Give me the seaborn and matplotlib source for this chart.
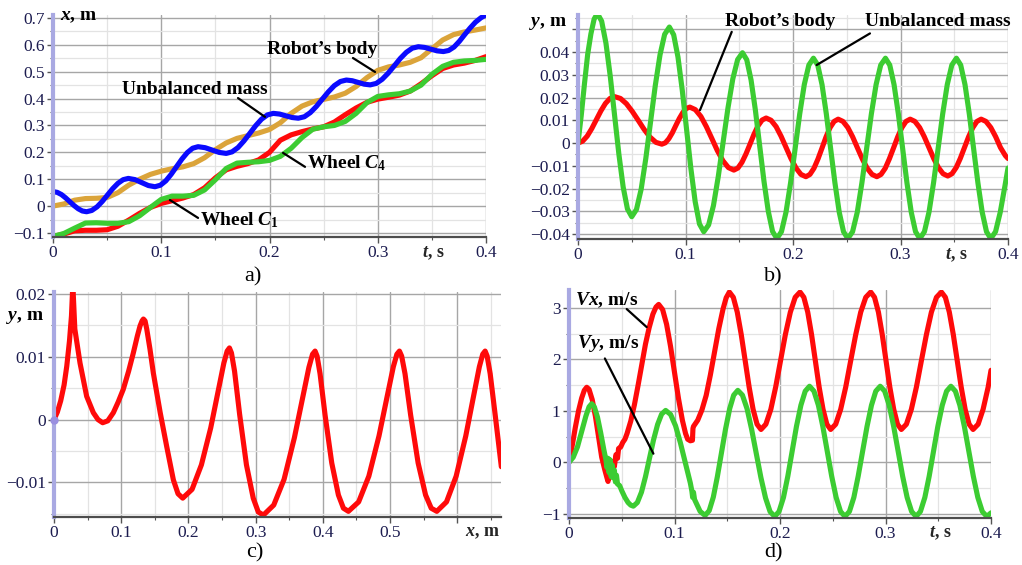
import matplotlib
matplotlib.use('Agg')
import matplotlib.pyplot as plt
import matplotlib.transforms as mtransforms
from matplotlib.ticker import MultipleLocator, FuncFormatter
import seaborn as sns

sns.set_theme(style='whitegrid')
plt.rcParams.update({
    'font.family': ['Liberation Serif', 'DejaVu Serif'],
    'mathtext.fontset': 'custom',
    'mathtext.it': 'Liberation Serif:italic:bold',
    'mathtext.rm': 'Liberation Serif:bold',
    'mathtext.bf': 'Liberation Serif:bold',
    'axes.facecolor': 'white',
    'figure.facecolor': 'white',
    'lines.solid_joinstyle': 'round',
    'lines.solid_capstyle': 'round',
})

# ---------------- data ----------------
# a) x(t): robot's body, unbalanced mass, wheels C1 and C4
A_BODY = [(0, 0.0), (0.01, 0.008), (0.02, 0.022), (0.03, 0.028), (0.04, 0.029), (0.05, 0.032),
          (0.06, 0.05), (0.07, 0.078), (0.08, 0.1), (0.09, 0.118), (0.1, 0.13), (0.11, 0.139),
          (0.12, 0.146), (0.13, 0.158), (0.14, 0.18), (0.15, 0.21), (0.16, 0.235), (0.17, 0.252),
          (0.18, 0.262), (0.19, 0.272), (0.2, 0.285), (0.21, 0.31), (0.22, 0.345), (0.23, 0.372),
          (0.24, 0.388), (0.25, 0.397), (0.26, 0.406), (0.27, 0.42), (0.28, 0.445), (0.29, 0.478),
          (0.3, 0.505), (0.31, 0.518), (0.32, 0.525), (0.33, 0.535), (0.34, 0.552), (0.35, 0.585),
          (0.36, 0.618), (0.37, 0.638), (0.38, 0.648), (0.39, 0.655), (0.4, 0.663)]
A_MASS = [(0, 0.054), (0.0039, 0.0511), (0.0078, 0.043), (0.0116, 0.0308), (0.0155, 0.0165),
          (0.0194, 0.0022), (0.0233, -0.010), (0.0271, -0.0182), (0.031, -0.021),
          (0.0358, -0.0163), (0.0407, -0.0028), (0.0455, 0.0173), (0.0503, 0.041), (0.0551, 0.0647),
          (0.06, 0.0848), (0.0648, 0.0983), (0.0696, 0.103),
          (0.0758, 0.0985), (0.0819, 0.0875), (0.0881, 0.0765), (0.0942, 0.072),
          (0.0992, 0.0777), (0.1042, 0.0938), (0.1091, 0.118), (0.1141, 0.1465), (0.1191, 0.175),
          (0.1241, 0.1992), (0.129, 0.2153), (0.134, 0.221),
          (0.1405, 0.2173), (0.147, 0.2085), (0.1535, 0.1997), (0.16, 0.196),
          (0.1654, 0.2017), (0.1709, 0.2178), (0.1763, 0.242), (0.1818, 0.2705), (0.1872, 0.299),
          (0.1926, 0.3232), (0.1981, 0.3393), (0.2035, 0.345),
          (0.2093, 0.3424), (0.215, 0.336), (0.2208, 0.3296), (0.2266, 0.327),
          (0.2322, 0.3324), (0.2377, 0.3478), (0.2433, 0.3708), (0.2488, 0.398), (0.2544, 0.4252),
          (0.2599, 0.4482), (0.2655, 0.4636), (0.271, 0.469),
          (0.2765, 0.4664), (0.282, 0.46), (0.2875, 0.4536), (0.293, 0.451),
          (0.2986, 0.4564), (0.3041, 0.4718), (0.3097, 0.4948), (0.3153, 0.522), (0.3208, 0.5492),
          (0.3264, 0.5722), (0.3319, 0.5876), (0.3375, 0.593),
          (0.3433, 0.5904), (0.349, 0.584), (0.3548, 0.5776), (0.3606, 0.575),
          (0.3655, 0.579), (0.3705, 0.592), (0.3754, 0.613), (0.3803, 0.638), (0.3852, 0.662),
          (0.3902, 0.684), (0.3951, 0.700), (0.4, 0.712)]
A_WHEEL1 = [(0, -0.113), (0.01, -0.104), (0.02, -0.092), (0.03, -0.09), (0.04, -0.09), (0.05, -0.088),
            (0.06, -0.075), (0.07, -0.052), (0.08, -0.027), (0.09, -0.005), (0.1, 0.01), (0.11, 0.02),
            (0.12, 0.03), (0.13, 0.043), (0.14, 0.068), (0.15, 0.105), (0.16, 0.135), (0.17, 0.148),
            (0.18, 0.158), (0.19, 0.172), (0.2, 0.2), (0.21, 0.245), (0.22, 0.265), (0.23, 0.277),
            (0.24, 0.287), (0.25, 0.295), (0.26, 0.313), (0.27, 0.34), (0.28, 0.365), (0.29, 0.386),
            (0.3, 0.398), (0.31, 0.405), (0.32, 0.413), (0.33, 0.428), (0.34, 0.455), (0.35, 0.485),
            (0.36, 0.512), (0.37, 0.525), (0.38, 0.532), (0.39, 0.542), (0.4, 0.556)]
A_WHEEL4 = [(0, -0.113), (0.01, -0.102), (0.02, -0.082), (0.03, -0.063), (0.04, -0.062), (0.05, -0.064),
            (0.06, -0.064), (0.07, -0.058), (0.08, -0.036), (0.09, -0.005), (0.1, 0.025), (0.11, 0.037),
            (0.12, 0.037), (0.13, 0.04), (0.14, 0.06), (0.15, 0.098), (0.16, 0.14), (0.17, 0.16),
            (0.18, 0.163), (0.19, 0.165), (0.2, 0.17), (0.21, 0.185), (0.22, 0.215), (0.23, 0.255),
            (0.24, 0.286), (0.25, 0.295), (0.26, 0.3), (0.27, 0.315), (0.28, 0.345), (0.29, 0.385),
            (0.3, 0.408), (0.31, 0.414), (0.32, 0.418), (0.33, 0.428), (0.34, 0.45), (0.35, 0.49),
            (0.36, 0.52), (0.37, 0.535), (0.38, 0.54), (0.39, 0.542), (0.4, 0.546)]

# b) y(t): robot's body (red), unbalanced mass (green)
B_BODY = [(0, 0.0), (0.00425, 0.0008), (0.0085, 0.003), (0.01275, 0.0063), (0.017, 0.0102),
          (0.02125, 0.0141), (0.0255, 0.0174), (0.02975, 0.0196), (0.034, 0.0204),
          (0.0395, 0.0196), (0.045, 0.0173), (0.0505, 0.0139), (0.056, 0.01), (0.0615, 0.006),
          (0.067, 0.0026), (0.0725, 0.0003), (0.078, -0.0005),
          (0.08125, 0.0001), (0.0845, 0.0019), (0.08775, 0.0045), (0.091, 0.0077), (0.09425, 0.0108),
          (0.0975, 0.0134), (0.10075, 0.0152), (0.104, 0.0158),
          (0.1091, 0.0147), (0.1143, 0.0117), (0.1194, 0.0072), (0.1245, 0.002), (0.1296, -0.0033),
          (0.1348, -0.0078), (0.1399, -0.0108), (0.145, -0.0119),
          (0.14875, -0.011), (0.1525, -0.0085), (0.15625, -0.0048), (0.16, -0.0005), (0.16375, 0.0039),
          (0.1675, 0.0076), (0.17125, 0.0101), (0.175, 0.011),
          (0.1796, 0.01), (0.1843, 0.0072), (0.1889, 0.003), (0.1935, -0.0019), (0.1981, -0.0068),
          (0.2028, -0.011), (0.2074, -0.0138), (0.212, -0.0148),
          (0.21575, -0.0138), (0.2195, -0.0111), (0.22325, -0.007), (0.227, -0.0022), (0.23075, 0.0027),
          (0.2345, 0.0068), (0.23825, 0.0095), (0.242, 0.0105),
          (0.2465, 0.0095), (0.251, 0.0068), (0.2555, 0.0027), (0.26, -0.0022), (0.2645, -0.007),
          (0.269, -0.0111), (0.2735, -0.0138), (0.278, -0.0148),
          (0.2819, -0.0138), (0.2858, -0.0111), (0.2896, -0.007), (0.2935, -0.0022), (0.2974, 0.0027),
          (0.3013, 0.0068), (0.3051, 0.0095), (0.309, 0.0105),
          (0.3134, 0.0095), (0.3178, 0.0068), (0.3221, 0.0028), (0.3265, -0.002), (0.3309, -0.0068),
          (0.3353, -0.0108), (0.3396, -0.0135), (0.344, -0.0145),
          (0.3479, -0.0135), (0.3518, -0.0108), (0.3556, -0.0068), (0.3595, -0.002), (0.3634, 0.0028),
          (0.3673, 0.0068), (0.3711, 0.0095), (0.375, 0.0105),
          (0.3795, 0.0095), (0.384, 0.0068), (0.3885, 0.0028), (0.393, -0.002), (0.3975, -0.0055),
          (0.4, -0.0068)]
B_MASS = [(0, 0.0), (0.003, 0.012), (0.006, 0.026), (0.009, 0.039), (0.012, 0.048), (0.015, 0.0545),
          (0.018, 0.057),
          (0.022, 0.0536), (0.026, 0.0439), (0.03, 0.0294), (0.034, 0.0123), (0.038, -0.0048),
          (0.042, -0.0193), (0.046, -0.029), (0.05, -0.0324),
          (0.0544, -0.0292), (0.0588, -0.0202), (0.0631, -0.0067), (0.0675, 0.0093), (0.0719, 0.0253),
          (0.0763, 0.0388), (0.0806, 0.0478), (0.085, 0.051),
          (0.089, 0.0476), (0.093, 0.0378), (0.097, 0.0232), (0.101, 0.006), (0.105, -0.0112),
          (0.109, -0.0258), (0.113, -0.0356), (0.117, -0.039),
          (0.1215, -0.036), (0.126, -0.0275), (0.1305, -0.0147), (0.135, 0.0004), (0.1395, 0.0154),
          (0.144, 0.0282), (0.1485, 0.0367), (0.153, 0.0397),
          (0.157, 0.0366), (0.161, 0.0277), (0.165, 0.0145), (0.169, -0.0012), (0.173, -0.0168),
          (0.177, -0.03), (0.181, -0.0389), (0.185, -0.042),
          (0.18925, -0.039), (0.1935, -0.0304), (0.19775, -0.0175), (0.202, -0.0024), (0.20625, 0.0128),
          (0.2105, 0.0257), (0.21475, 0.0343), (0.219, 0.0373),
          (0.223, 0.0343), (0.227, 0.0257), (0.231, 0.0128), (0.235, -0.0024), (0.239, -0.0175),
          (0.243, -0.0304), (0.247, -0.039), (0.251, -0.042),
          (0.2554, -0.039), (0.2598, -0.0304), (0.2641, -0.0175), (0.2685, -0.0024), (0.2729, 0.0128),
          (0.2773, 0.0257), (0.2816, 0.0343), (0.286, 0.0373),
          (0.29, 0.0343), (0.294, 0.0257), (0.298, 0.0128), (0.302, -0.0024), (0.306, -0.0175),
          (0.31, -0.0304), (0.314, -0.039), (0.318, -0.042),
          (0.32225, -0.039), (0.3265, -0.0304), (0.33075, -0.0175), (0.335, -0.0024), (0.33925, 0.0128),
          (0.3435, 0.0257), (0.34775, 0.0343), (0.352, 0.0373),
          (0.356, 0.0343), (0.36, 0.0257), (0.364, 0.0128), (0.368, -0.0024), (0.372, -0.0175),
          (0.376, -0.0304), (0.38, -0.039), (0.384, -0.042),
          (0.3884, -0.039), (0.3928, -0.0304), (0.3971, -0.019), (0.4, -0.011)]

# c) trajectory y(x) of the robot's body
C_X = [0, 0.005, 0.01, 0.015, 0.019, 0.023, 0.026, 0.028, 0.031, 0.0387, 0.0486, 0.0585, 0.0655,
       0.0724, 0.08, 0.0883, 0.0955, 0.103, 0.111, 0.118, 0.124, 0.128, 0.131, 0.133, 0.1355, 0.138,
       0.1428, 0.1478, 0.158, 0.1677, 0.1776, 0.1845, 0.1915, 0.2054, 0.2193, 0.2332, 0.2436, 0.2527,
       0.2576, 0.261, 0.264, 0.2686, 0.2762, 0.2863, 0.2964, 0.3039, 0.3115, 0.3269, 0.3423, 0.3576,
       0.3692, 0.3792, 0.3846, 0.3884, 0.3914, 0.3958, 0.4033, 0.4132, 0.4231, 0.4306, 0.438, 0.4532,
       0.4684, 0.4835, 0.4949, 0.5048, 0.5101, 0.5139, 0.5172, 0.5222, 0.5306, 0.5417, 0.5528, 0.5612,
       0.5695, 0.5839, 0.5983, 0.6126, 0.6234, 0.6328, 0.6378, 0.6414, 0.6444, 0.6489, 0.6564, 0.6655]
C_Y = [0, 0.0012, 0.003, 0.0055, 0.0085, 0.0125, 0.0165, 0.0215, 0.0144, 0.009, 0.0037, 0.0011, 0.0,
       -0.0005, -0.0002, 0.0011, 0.0028, 0.0048, 0.0077, 0.0106, 0.0133, 0.0149, 0.0157, 0.016, 0.0157,
       0.0144, 0.0112, 0.0074, 0.0011, -0.0043, -0.0096, -0.0118, -0.0125, -0.0111, -0.0072, -0.0013,
       0.0042, 0.009, 0.0109, 0.0114, 0.0106, 0.0077, 0.0008, -0.0072, -0.0125, -0.0147, -0.0152,
       -0.0136, -0.0095, -0.0029, 0.0031, 0.0083, 0.0104, 0.0109, 0.0101, 0.0073, 0.0007, -0.0069,
       -0.012, -0.0141, -0.0146, -0.0131, -0.009, -0.0026, 0.0033, 0.0084, 0.0104, 0.0109, 0.0101,
       0.0073, 0.0007, -0.0069, -0.012, -0.0141, -0.0146, -0.0131, -0.009, -0.0026, 0.0033, 0.0084,
       0.0104, 0.0109, 0.0101, 0.0073, 0.0007, -0.0075]

# d) velocities Vx(t), Vy(t)
D_VX = [(0, 0.0), (0.003, 0.32), (0.006, 0.68), (0.009, 1.0), (0.012, 1.25), (0.0145, 1.4), (0.0168, 1.46),
        (0.019, 1.42), (0.022, 1.22), (0.025, 0.9), (0.028, 0.5), (0.031, 0.1), (0.034, -0.15),
        (0.036, -0.3), (0.037, -0.37), (0.038, -0.12), (0.039, -0.28), (0.04, -0.05), (0.041, -0.2),
        (0.042, 0.02), (0.043, -0.08), (0.0445, 0.15), (0.046, 0.08), (0.047, 0.27), (0.049, 0.3),
        (0.051, 0.39), (0.053, 0.45), (0.055, 0.56), (0.0585, 0.8), (0.062, 1.12), (0.0655, 1.5),
        (0.069, 1.9), (0.0725, 2.3), (0.076, 2.62), (0.0795, 2.88), (0.0825, 3.02), (0.085, 3.07),
        (0.08875, 2.97), (0.0925, 2.684), (0.09625, 2.255), (0.1, 1.75), (0.10375, 1.245),
        (0.1075, 0.816), (0.1105, 0.56), (0.1125, 0.45), (0.115, 0.42), (0.117, 0.43), (0.1175, 0.66),
        (0.118, 0.7), (0.122, 0.82), (0.126, 1.02), (0.13, 1.3), (0.134, 1.7), (0.138, 2.15),
        (0.142, 2.6), (0.146, 2.98), (0.149, 3.2), (0.152, 3.31),
        (0.15575, 3.208), (0.1595, 2.919), (0.16325, 2.486), (0.167, 1.975), (0.17075, 1.464),
        (0.1745, 1.031), (0.17825, 0.742), (0.182, 0.64),
        (0.1866, 0.742), (0.1913, 1.031), (0.1959, 1.464), (0.2005, 1.975), (0.2051, 2.486),
        (0.2098, 2.919), (0.2144, 3.208), (0.219, 3.31),
        (0.2226, 3.208), (0.2263, 2.919), (0.2299, 2.486), (0.2335, 1.975), (0.2371, 1.464),
        (0.2408, 1.031), (0.2444, 0.742), (0.248, 0.64),
        (0.2528, 0.742), (0.2575, 1.031), (0.2623, 1.464), (0.267, 1.975), (0.2718, 2.486),
        (0.2765, 2.919), (0.2813, 3.208), (0.286, 3.31),
        (0.2896, 3.208), (0.2933, 2.919), (0.2969, 2.486), (0.3005, 1.975), (0.3041, 1.464),
        (0.3078, 1.031), (0.3114, 0.742), (0.315, 0.64),
        (0.3198, 0.742), (0.3245, 1.031), (0.3293, 1.464), (0.334, 1.975), (0.3388, 2.486),
        (0.3435, 2.919), (0.3483, 3.208), (0.353, 3.31),
        (0.35675, 3.208), (0.3605, 2.919), (0.36425, 2.486), (0.368, 1.975), (0.37175, 1.464),
        (0.3755, 1.031), (0.37925, 0.742), (0.383, 0.64),
        (0.3878, 0.742), (0.3925, 1.031), (0.3973, 1.464), (0.4, 1.79)]
D_VY = [(0, 0.0), (0.004, 0.1), (0.008, 0.3), (0.012, 0.6), (0.016, 0.9), (0.019, 1.08), (0.0215, 1.14),
        (0.024, 1.08), (0.027, 0.88), (0.03, 0.58), (0.033, 0.25), (0.035, 0.05), (0.036, -0.1),
        (0.037, 0.08), (0.038, -0.2), (0.039, 0.05), (0.04, -0.28), (0.041, -0.05), (0.042, -0.3),
        (0.043, -0.15), (0.044, -0.38), (0.045, -0.25), (0.046, -0.42), (0.048, -0.45), (0.05, -0.55),
        (0.053, -0.68), (0.056, -0.78), (0.0585, -0.83), (0.061, -0.85),
        (0.0648, -0.779), (0.0687, -0.578), (0.0725, -0.276), (0.0763, 0.08), (0.0801, 0.436),
        (0.084, 0.738), (0.0878, 0.939), (0.0916, 1.01),
        (0.0963, 0.932), (0.101, 0.711), (0.1056, 0.38), (0.1103, -0.01), (0.115, -0.4),
        (0.1165, -0.56), (0.1172, -0.68), (0.118, -0.58), (0.119, -0.72), (0.1243, -0.952), (0.129, -1.03),
        (0.1329, -0.937), (0.1368, -0.674), (0.1406, -0.28), (0.1445, 0.185), (0.1484, 0.65),
        (0.1523, 1.044), (0.1561, 1.307), (0.16, 1.4),
        (0.1644, 1.307), (0.1688, 1.041), (0.1731, 0.644), (0.1775, 0.175), (0.1819, -0.294),
        (0.1863, -0.691), (0.1906, -0.957), (0.195, -1.05),
        (0.1991, -0.954), (0.2033, -0.68), (0.2074, -0.269), (0.2115, 0.215), (0.2156, 0.699),
        (0.2198, 1.11), (0.2239, 1.384), (0.228, 1.48),
        (0.2322, 1.384), (0.2364, 1.11), (0.2406, 0.699), (0.2448, 0.215), (0.249, -0.269),
        (0.2532, -0.68), (0.2574, -0.954), (0.2616, -1.05),
        (0.2658, -0.954), (0.27, -0.68), (0.2741, -0.269), (0.2783, 0.215), (0.2825, 0.699),
        (0.2867, 1.11), (0.2908, 1.384), (0.295, 1.48),
        (0.29925, 1.384), (0.3035, 1.11), (0.30775, 0.699), (0.312, 0.215), (0.31625, -0.269),
        (0.3205, -0.68), (0.32475, -0.954), (0.329, -1.05),
        (0.3331, -0.954), (0.3373, -0.68), (0.3414, -0.269), (0.3455, 0.215), (0.3496, 0.699),
        (0.3538, 1.11), (0.3579, 1.384), (0.362, 1.48),
        (0.36625, 1.384), (0.3705, 1.11), (0.37475, 0.699), (0.379, 0.215), (0.38325, -0.269),
        (0.3875, -0.68), (0.39175, -0.954), (0.396, -1.05), (0.4, -0.98)]

# ---------------- styling ----------------
BLUE, GOLD, RED, GREEN = '#0a0aff', '#dba43a', '#ff0a0a', '#3ccc32'
LW = 3.7
TXT = dict(fontsize=14, fontweight='bold', color='black')
LEAD = dict(arrowstyle='-', color='black', lw=1.6, shrinkA=0, shrinkB=0)

fig = plt.figure(figsize=(10.22, 5.65), dpi=100)
W, H = 1022, 565


def add_ax(l, t, r, b):
    return fig.add_axes([l / W, 1 - b / H, (r - l) / W, (b - t) / H])


def fmt_factory(hidden=()):
    def f(v, pos):
        v = round(v, 6)
        if abs(v) < 1e-12:
            return '0'
        if any(abs(v - h) < 1e-9 for h in hidden):
            return ''
        return ('%g' % v).replace('-', '\u2212')
    return FuncFormatter(f)


def style(ax, xlim, ylim, xmaj, xmin, ymaj, ymin, hide_x=(), hide_y=()):
    ax.set_xlim(*xlim)
    ax.set_ylim(*ylim)
    ax.xaxis.set_major_locator(MultipleLocator(xmaj))
    ax.xaxis.set_minor_locator(MultipleLocator(xmin))
    ax.yaxis.set_major_locator(MultipleLocator(ymaj))
    ax.yaxis.set_minor_locator(MultipleLocator(ymin))
    ax.xaxis.set_major_formatter(fmt_factory(hide_x))
    ax.yaxis.set_major_formatter(fmt_factory(hide_y))
    ax.grid(True, which='major', color='#a6a6a6', lw=1.0)
    ax.grid(True, which='minor', color='#e3e3e3', lw=0.9)
    ax.set_axisbelow(True)
    for s in ('top', 'right'):
        ax.spines[s].set_visible(False)
    ax.spines['left'].set_color('#a9a9e2')
    ax.spines['left'].set_linewidth(3)
    ax.spines['bottom'].set_color('#4d4d4d')
    ax.spines['bottom'].set_linewidth(1.6)
    ax.tick_params(which='both', bottom=True, left=True, direction='out', color='#555555',
                   labelsize=12.5, labelcolor='#1c1c50', pad=2)
    ax.tick_params(which='major', length=4, width=1)
    ax.tick_params(which='minor', length=2.5, width=0.8)
    ax.set_xlabel('')
    ax.set_ylabel('')


def draw(ax, pairs, color):
    t = [p[0] for p in pairs]
    v = [p[1] for p in pairs]
    sns.lineplot(x=t, y=v, ax=ax, color=color, lw=LW, sort=False, estimator=None, legend=False)


def bottom_label(ax, x, text, yfrac):
    tr = mtransforms.blended_transform_factory(ax.transData, ax.transAxes)
    ax.text(x, yfrac, text, transform=tr, ha='center', va='center', fontsize=13,
            fontweight='bold', clip_on=False)


# ---- a) ----
axa = add_ax(53, 15, 486, 237)
draw(axa, A_BODY, GOLD)
draw(axa, A_MASS, BLUE)
draw(axa, A_WHEEL1, RED)
draw(axa, A_WHEEL4, GREEN)
style(axa, (0, 0.4), (-0.115, 0.711), 0.1, 0.05, 0.1, 0.05)
axa.text(0.0065, 0.705, r'$x$, m', ha='left', va='center', **TXT)
axa.text(0.2485, 0.581, 'Robot\u2019s body', ha='center', va='center', **TXT)
axa.annotate('', xy=(0.2975, 0.499), xytext=(0.2771, 0.551), arrowprops=LEAD)
axa.text(0.1307, 0.432, 'Unbalanced mass', ha='center', va='center', **TXT)
axa.annotate('', xy=(0.1958, 0.332), xytext=(0.1709, 0.402), arrowprops=LEAD)
axa.text(0.2346, 0.160, r'Wheel $C_{4}$', ha='left', va='center', **TXT)
axa.annotate('', xy=(0.2125, 0.198), xytext=(0.2328, 0.146), arrowprops=LEAD)
axa.text(0.1358, -0.052, r'Wheel $C_{1}$', ha='left', va='center', **TXT)
axa.annotate('', xy=(0.108, 0.0227), xytext=(0.134, -0.044), arrowprops=LEAD)
bottom_label(axa, 0.351, r'$t$, s', -0.072)

# ---- b) ----
axb = add_ax(578, 15, 1008, 239)
draw(axb, B_BODY, RED)
draw(axb, B_MASS, GREEN)
style(axb, (0, 0.4), (-0.0422, 0.0563), 0.1, 0.05, 0.01, 0.005, hide_y=(0.05,))
axb.text(-0.0279, 0.0527, r'$y$, m', ha='center', va='center', clip_on=False, **TXT)
axb.text(0.188, 0.0536, 'Robot\u2019s body', ha='center', va='center', **TXT)
axb.annotate('', xy=(0.1135, 0.0145), xytext=(0.143, 0.0489), arrowprops=LEAD)
axb.text(0.3344, 0.0536, 'Unbalanced mass', ha='center', va='center', clip_on=False, **TXT)
axb.annotate('', xy=(0.222, 0.0343), xytext=(0.2716, 0.0482), arrowprops=LEAD)
bottom_label(axb, 0.352, r'$t$, s', -0.072)

# ---- c) ----
axc = add_ax(54, 292, 501, 517)
sns.lineplot(x=C_X, y=C_Y, ax=axc, color=RED, lw=LW, sort=False, estimator=None, legend=False)
axc.plot([0], [0], 'o', color='#9a8fe0', ms=5, zorder=5, clip_on=False)
style(axc, (0, 0.665), (-0.0155, 0.0203), 0.1, 0.05, 0.01, 0.005, hide_x=(0.6,))
axc.text(-0.0432, 0.0163, r'$y$, m', ha='center', va='center', clip_on=False, **TXT)
bottom_label(axc, 0.638, r'$x$, m', -0.067)

# ---- d) ----
axd = add_ax(569, 290, 991, 518)
draw(axd, D_VX, RED)
draw(axd, D_VY, GREEN)
style(axd, (0, 0.4), (-1.08, 3.35), 0.1, 0.05, 1, 0.5)
axd.text(0.006, 3.15, r'$Vx$, m/s', ha='left', va='center', **TXT)
axd.annotate('', xy=(0.0736, 2.63), xytext=(0.0547, 2.98), arrowprops=LEAD)
axd.text(0.0076, 2.31, r'$Vy$, m/s', ha='left', va='center', **TXT)
axd.annotate('', xy=(0.080, 0.17), xytext=(0.034, 2.02), arrowprops=LEAD)
bottom_label(axd, 0.352, r'$t$, s', -0.066)

# ---- captions ----
for lab, (px, py) in zip(['a)', 'b)', 'c)', 'd)'], [(253, 277), (773, 277), (255, 553), (773, 553)]):
    fig.text(px / W, 1 - py / H, lab, ha='center', va='center', fontsize=16, color='black')

fig.savefig('out.png', dpi=100)
